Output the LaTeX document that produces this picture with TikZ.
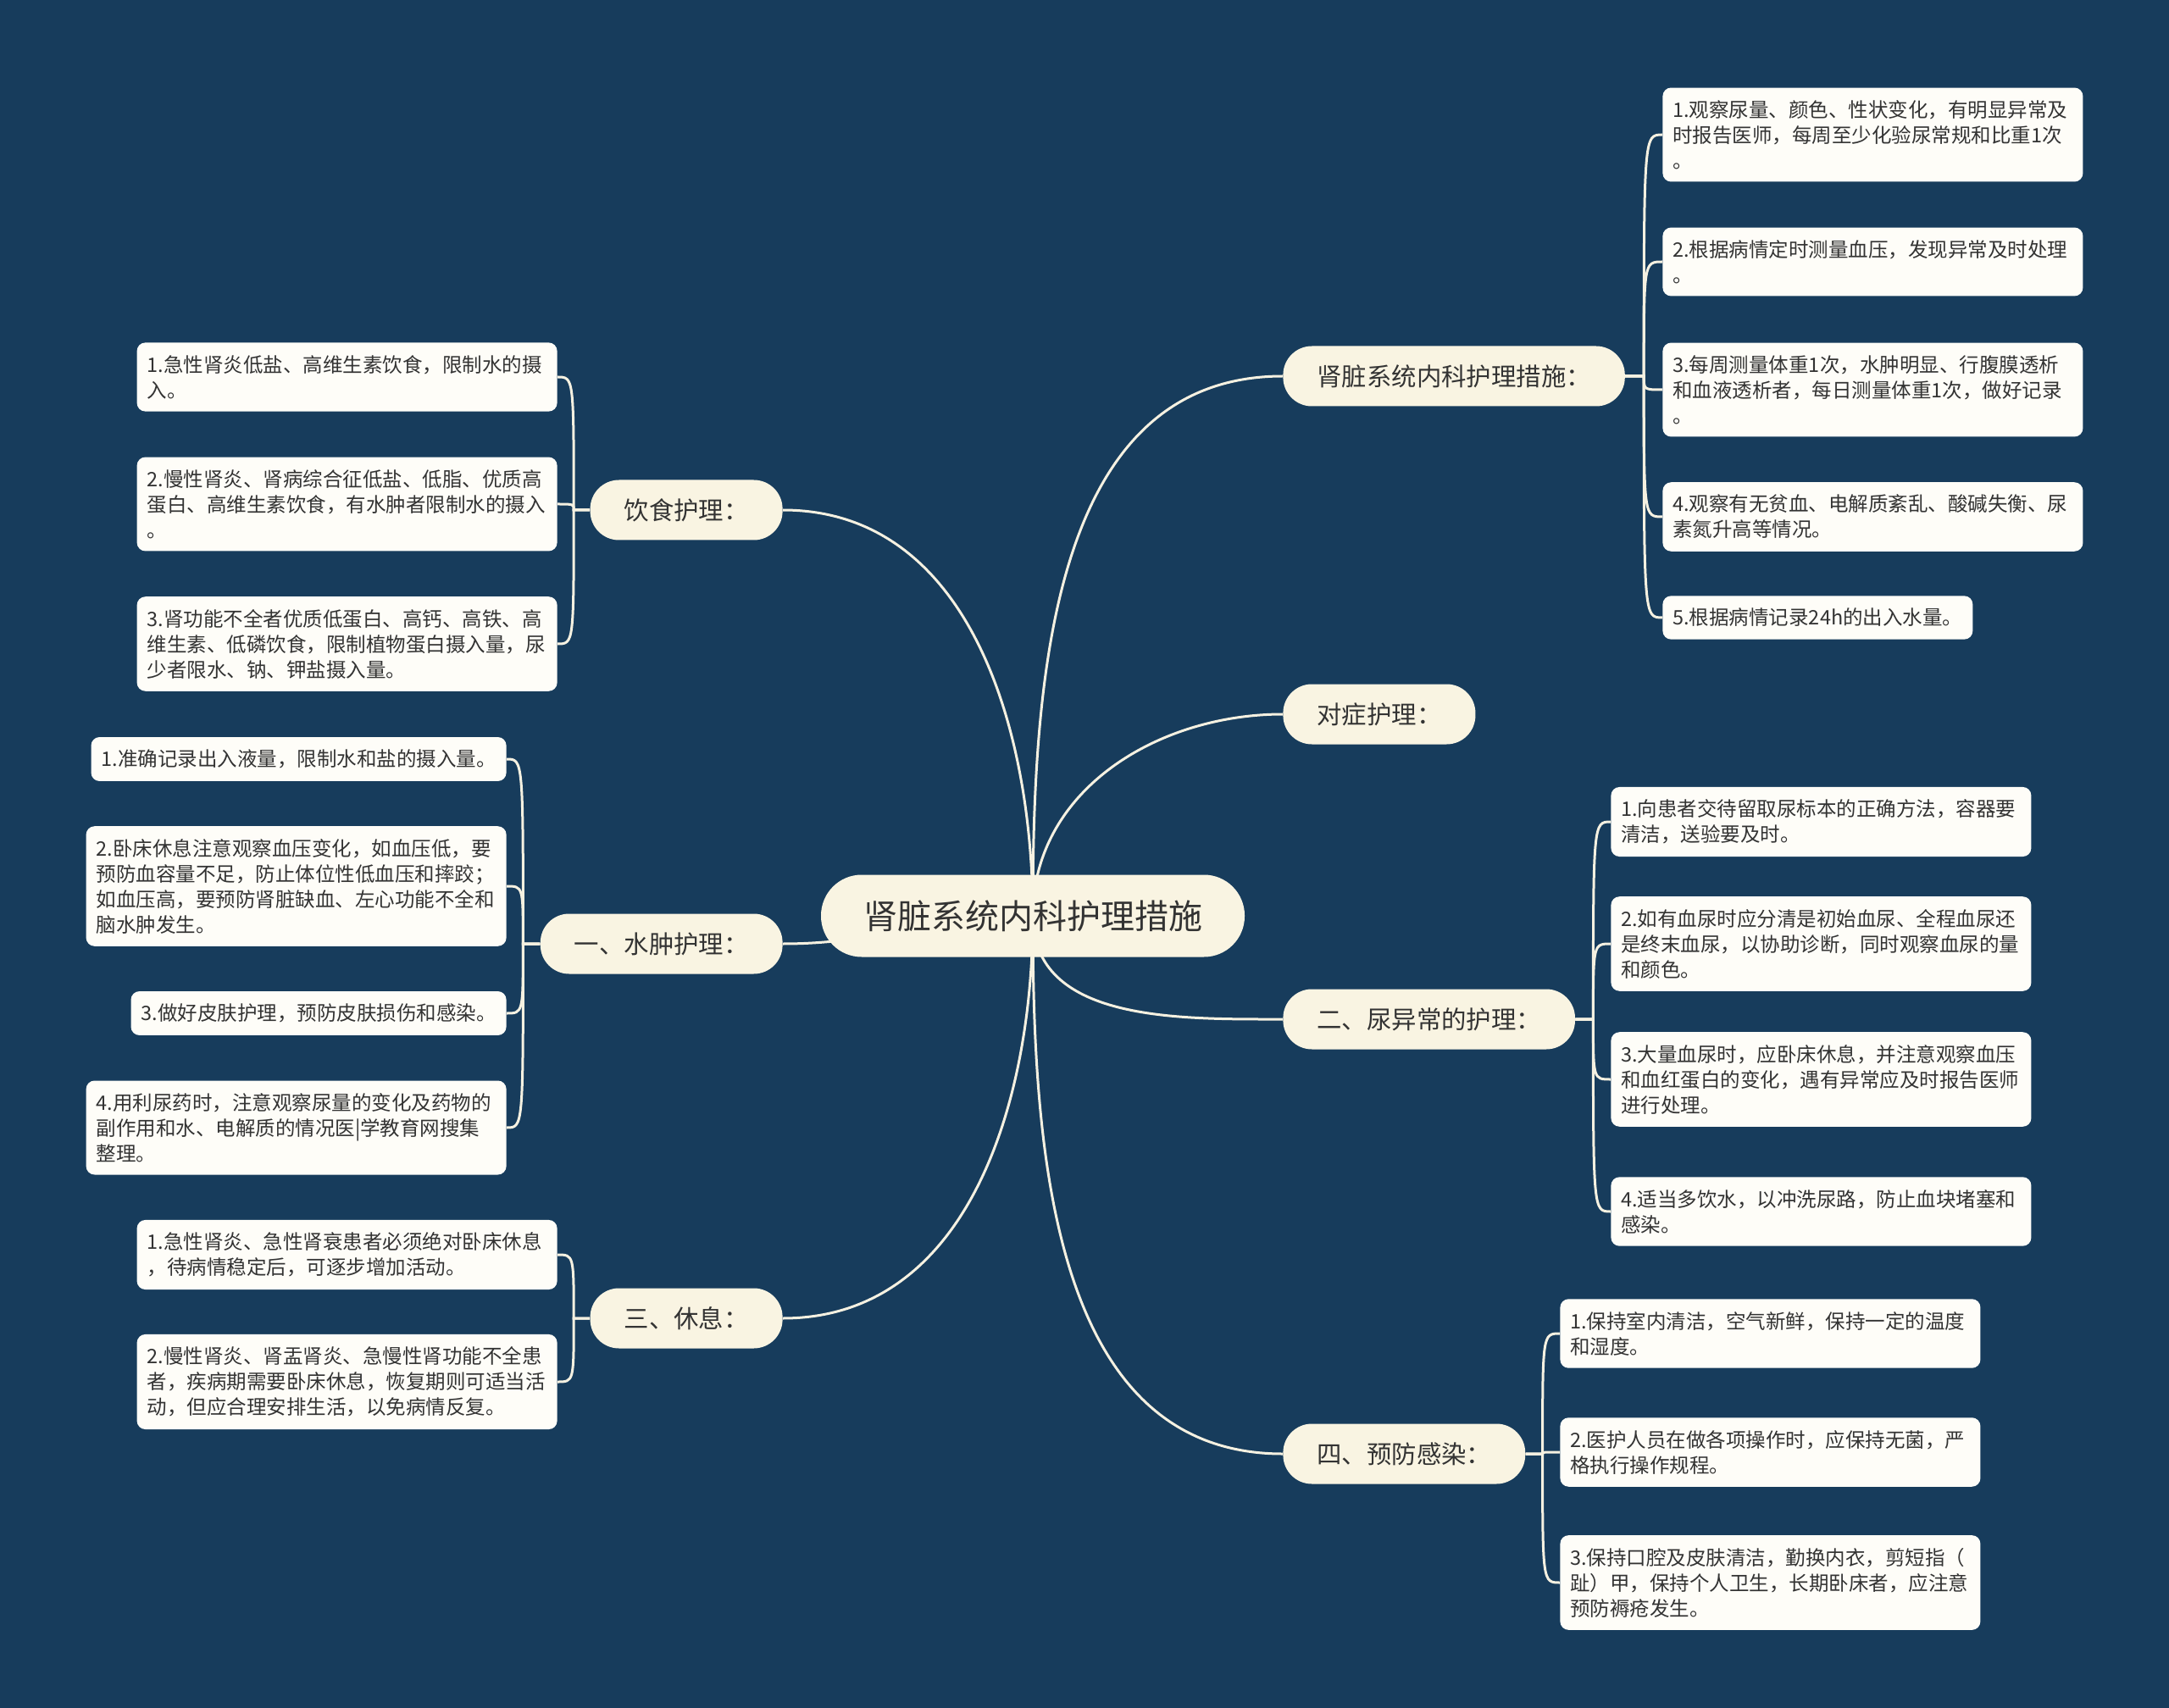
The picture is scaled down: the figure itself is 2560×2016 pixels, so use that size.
\documentclass[tikz,border=0pt]{standalone}
\usepackage{fontspec}
\setmainfont{Noto Sans CJK SC}
\usepackage{tikz}

\definecolor{fondo}{RGB}{23,60,92}
\definecolor{crema}{RGB}{249,244,226}
\definecolor{papel}{RGB}{254,253,248}
\definecolor{linea}{RGB}{245,241,225}
\definecolor{texto}{RGB}{51,51,51}

\pgfdeclarelayer{capafondo}
\pgfdeclarelayer{capalineas}
\pgfsetlayers{capafondo,capalineas,main}

\begin{document}
\begin{tikzpicture}[
    x=0.5pt, y=-0.5pt,
    every node/.style={text=texto},
    root_node/.style={fill=crema, rounded corners=24pt, minimum height=48.5pt, inner xsep=25pt, inner ysep=2pt, font=\fontsize{20}{24}\selectfont},
    branch_node/.style={fill=crema, rounded corners=17pt, minimum height=35.5pt, inner xsep=20pt, inner ysep=2pt, font=\fontsize{14.7}{18}\selectfont},
    leaf_node/.style={fill=papel, rounded corners=5pt, align=left, inner xsep=6pt, inner ysep=7.4pt, font=\fontsize{11.75}{15}\selectfont},
    wide_leaf/.style={text width=236pt},
    main_link/.style={draw=linea, line width=1.5pt},
    leaf_link/.style={draw=linea, line width=1.5pt}
]

% Fondo
\begin{pgfonlayer}{capafondo}
\fill[fondo] (0,0) rectangle (2560,2016);
\end{pgfonlayer}

% Nodo central
\node[root_node] (R) at (1219,1081) {肾脏系统内科护理措施};

% Ramas
\node[branch_node, anchor=west] (A) at (1514,444) {肾脏系统内科护理措施：};
\node[branch_node, anchor=west] (B) at (1514,843) {对症护理：};
\node[branch_node, anchor=west] (C) at (1514,1203) {二、尿异常的护理：};
\node[branch_node, anchor=west] (D) at (1514,1716) {四、预防感染：};
\node[branch_node, anchor=east] (E) at (924,602) {饮食护理：};
\node[branch_node, anchor=east] (F) at (924,1114) {一、水肿护理：};
\node[branch_node, anchor=east] (G) at (924,1556) {三、休息：};

% Hojas
\node[leaf_node, wide_leaf, anchor=west] (A1) at (1962,159) {1.观察尿量、颜色、性状变化，有明显异常及\\时报告医师，每周至少化验尿常规和比重1次\\。};
\node[leaf_node, wide_leaf, anchor=west] (A2) at (1962,309) {2.根据病情定时测量血压，发现异常及时处理\\。};
\node[leaf_node, wide_leaf, anchor=west] (A3) at (1962,460) {3.每周测量体重1次，水肿明显、行腹膜透析\\和血液透析者，每日测量体重1次，做好记录\\。};
\node[leaf_node, wide_leaf, anchor=west] (A4) at (1962,610) {4.观察有无贫血、电解质紊乱、酸碱失衡、尿\\素氮升高等情况。};
\node[leaf_node, anchor=west] (A5) at (1962,729) {5.根据病情记录24h的出入水量。};

\node[leaf_node, wide_leaf, anchor=west] (C1) at (1901,970) {1.向患者交待留取尿标本的正确方法，容器要\\清洁，送验要及时。};
\node[leaf_node, wide_leaf, anchor=west] (C2) at (1901,1114) {2.如有血尿时应分清是初始血尿、全程血尿还\\是终末血尿，以协助诊断，同时观察血尿的量\\和颜色。};
\node[leaf_node, wide_leaf, anchor=west] (C3) at (1901,1274) {3.大量血尿时，应卧床休息，并注意观察血压\\和血红蛋白的变化，遇有异常应及时报告医师\\进行处理。};
\node[leaf_node, wide_leaf, anchor=west] (C4) at (1901,1430) {4.适当多饮水，以冲洗尿路，防止血块堵塞和\\感染。};

\node[leaf_node, wide_leaf, anchor=west] (D1) at (1841,1574) {1.保持室内清洁，空气新鲜，保持一定的温度\\和湿度。};
\node[leaf_node, wide_leaf, anchor=west] (D2) at (1841,1714) {2.医护人员在做各项操作时，应保持无菌，严\\格执行操作规程。};
\node[leaf_node, wide_leaf, anchor=west] (D3) at (1841,1868) {3.保持口腔及皮肤清洁，勤换内衣，剪短指（\\趾）甲，保持个人卫生，长期卧床者，应注意\\预防褥疮发生。};

\node[leaf_node, wide_leaf, anchor=east] (E1) at (658,445) {1.急性肾炎低盐、高维生素饮食，限制水的摄\\入。};
\node[leaf_node, wide_leaf, anchor=east] (E2) at (658,595) {2.慢性肾炎、肾病综合征低盐、低脂、优质高\\蛋白、高维生素饮食，有水肿者限制水的摄入\\。};
\node[leaf_node, wide_leaf, anchor=east] (E3) at (658,760) {3.肾功能不全者优质低蛋白、高钙、高铁、高\\维生素、低磷饮食，限制植物蛋白摄入量，尿\\少者限水、钠、钾盐摄入量。};

\node[leaf_node, anchor=east] (F1) at (598,896) {1.准确记录出入液量，限制水和盐的摄入量。};
\node[leaf_node, wide_leaf, anchor=east] (F2) at (598,1046) {2.卧床休息注意观察血压变化，如血压低，要\\预防血容量不足，防止体位性低血压和摔跤；\\如血压高，要预防肾脏缺血、左心功能不全和\\脑水肿发生。};
\node[leaf_node, anchor=east] (F3) at (598,1196) {3.做好皮肤护理，预防皮肤损伤和感染。};
\node[leaf_node, wide_leaf, anchor=east] (F4) at (598,1331) {4.用利尿药时，注意观察尿量的变化及药物的\\副作用和水、电解质的情况医|学教育网搜集\\整理。};

\node[leaf_node, wide_leaf, anchor=east] (G1) at (658,1481) {1.急性肾炎、急性肾衰患者必须绝对卧床休息\\，待病情稳定后，可逐步增加活动。};
\node[leaf_node, wide_leaf, anchor=east] (G2) at (658,1631) {2.慢性肾炎、肾盂肾炎、急慢性肾功能不全患\\者，疾病期需要卧床休息，恢复期则可适当活\\动，但应合理安排生活，以免病情反复。};

% Puntos de reparto
\path (A.east) ++(22,0) coordinate (Aj);
\path (C.east) ++(21,0) coordinate (Cj);
\path (D.east) ++(20,0) coordinate (Dj);
\path (E.west) ++(-19,0) coordinate (Ej);
\path (F.west) ++(-20,0) coordinate (Fj);
\path (G.west) ++(-19,0) coordinate (Gj);

% Conexiones
\begin{pgfonlayer}{capalineas}
\draw[main_link] (R.center) .. controls +(0,-275) and +(-275,0) .. (A.west);
\draw[main_link] (R.center) .. controls +(0,-148) and +(-148,0) .. (B.west);
\draw[main_link] (R.center) .. controls +(0,125) and +(-125,0) .. (C.west);
\draw[main_link] (R.center) .. controls +(0,274) and +(-274,0) .. (D.west);
\draw[main_link] (R.center) .. controls +(0,-220) and +(220,0) .. (E.east);
\draw[main_link] (R.center) .. controls +(-116,0) and +(116,0) .. (F.east);
\draw[main_link] (R.center) .. controls +(0,219) and +(219,0) .. (G.east);

\draw[leaf_link] (A.east) -- (Aj) .. controls (Aj |- A1.west) .. (A1.west);
\draw[leaf_link] (A.east) -- (Aj) .. controls (Aj |- A2.west) .. (A2.west);
\draw[leaf_link] (A.east) -- (Aj) .. controls (Aj |- A3.west) .. (A3.west);
\draw[leaf_link] (A.east) -- (Aj) .. controls (Aj |- A4.west) .. (A4.west);
\draw[leaf_link] (A.east) -- (Aj) .. controls (Aj |- A5.west) .. (A5.west);

\draw[leaf_link] (C.east) -- (Cj) .. controls (Cj |- C1.west) .. (C1.west);
\draw[leaf_link] (C.east) -- (Cj) .. controls (Cj |- C2.west) .. (C2.west);
\draw[leaf_link] (C.east) -- (Cj) .. controls (Cj |- C3.west) .. (C3.west);
\draw[leaf_link] (C.east) -- (Cj) .. controls (Cj |- C4.west) .. (C4.west);

\draw[leaf_link] (D.east) -- (Dj) .. controls (Dj |- D1.west) .. (D1.west);
\draw[leaf_link] (D.east) -- (Dj) .. controls (Dj |- D2.west) .. (D2.west);
\draw[leaf_link] (D.east) -- (Dj) .. controls (Dj |- D3.west) .. (D3.west);

\draw[leaf_link] (E.west) -- (Ej) .. controls (Ej |- E1.east) .. (E1.east);
\draw[leaf_link] (E.west) -- (Ej) .. controls (Ej |- E2.east) .. (E2.east);
\draw[leaf_link] (E.west) -- (Ej) .. controls (Ej |- E3.east) .. (E3.east);

\draw[leaf_link] (F.west) -- (Fj) .. controls (Fj |- F1.east) .. (F1.east);
\draw[leaf_link] (F.west) -- (Fj) .. controls (Fj |- F2.east) .. (F2.east);
\draw[leaf_link] (F.west) -- (Fj) .. controls (Fj |- F3.east) .. (F3.east);
\draw[leaf_link] (F.west) -- (Fj) .. controls (Fj |- F4.east) .. (F4.east);

\draw[leaf_link] (G.west) -- (Gj) .. controls (Gj |- G1.east) .. (G1.east);
\draw[leaf_link] (G.west) -- (Gj) .. controls (Gj |- G2.east) .. (G2.east);
\end{pgfonlayer}

\end{tikzpicture}
\end{document}
